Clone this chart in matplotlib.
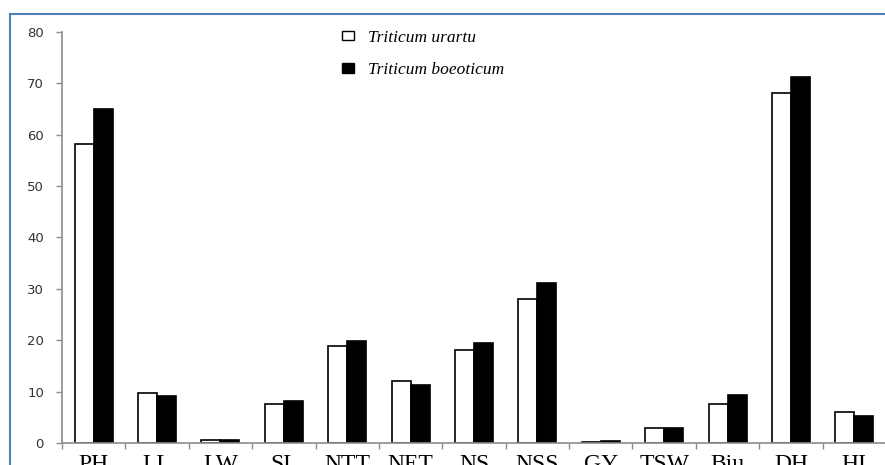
import matplotlib.pyplot as plt
import numpy as np
from matplotlib.lines import Line2D
from matplotlib.patches import Patch

# Trait abbreviations on the x axis
traits = ['PH', 'LL', 'LW', 'SL', 'NTT', 'NET', 'NS', 'NSS', 'GY', 'TSW',
          'Biu', 'DH', 'HI']

# Mean values for each species
urartu = [58.2, 9.7, 0.6, 7.5, 18.9, 12.1, 18.1, 28.0, 0.25, 2.9, 7.5, 68.1, 6.1]
boeoticum = [65.0, 9.2, 0.5, 8.2, 19.9, 11.2, 19.5, 31.1, 0.35, 3.0, 9.4, 71.3, 5.2]

y_ticks = [0, 10, 20, 30, 40, 50, 60, 70, 80]

x = np.arange(len(traits))
bar_width = 0.3
axis_grey = '#8c8c8c'

fig = plt.figure(figsize=(8.85, 4.65), dpi=100)
ax = fig.add_axes([62 / 885, 22 / 465, 824 / 885, 411 / 465])

ax.bar(x - bar_width / 2, urartu, bar_width, color='white',
       edgecolor='black', linewidth=1.2, label='Triticum urartu')
ax.bar(x + bar_width / 2, boeoticum, bar_width, color='black',
       edgecolor='black', linewidth=1.2, label='Triticum boeoticum')

ax.set_xlim(-0.5, len(traits) - 0.5)
ax.set_ylim(0, 80)

# y axis: small sans labels, outward ticks
ax.set_yticks(y_ticks)
ax.tick_params(axis='y', direction='out', length=4, width=1, color=axis_grey,
               labelsize=9.5, pad=9, labelcolor='#333333')

# x axis: labels centred, ticks between categories
ax.set_xticks(x, traits)
ax.set_xticks(np.arange(len(traits) + 1) - 0.5, minor=True)
ax.tick_params(axis='x', which='major', length=0, pad=8)
ax.tick_params(axis='x', which='minor', direction='out', length=4, width=1,
               color=axis_grey)
for lbl in ax.get_xticklabels():
    lbl.set_fontfamily('Liberation Serif')
    lbl.set_fontsize(17)

for side in ['top', 'right']:
    ax.spines[side].set_visible(False)
for side in ['left', 'bottom']:
    ax.spines[side].set_color(axis_grey)
    ax.spines[side].set_linewidth(1.2)

# Legend near top centre
handles = [Patch(facecolor='white', edgecolor='black', linewidth=1),
           Patch(facecolor='black', edgecolor='black')]
fig.legend(handles, ['Triticum urartu', 'Triticum boeoticum'],
           loc='upper left', bbox_to_anchor=(326 / 885, 1 - 14 / 465),
           frameon=False, handlelength=0.7, handleheight=0.5,
           handletextpad=0.8, labelspacing=0.95,
           prop={'family': 'Liberation Serif', 'style': 'italic', 'size': 12.5})

# Outer frame lines (top and left visible in the original)
frame_col = '#4f81bd'
fig.add_artist(Line2D([10 / 885, 1], [1 - 14 / 465, 1 - 14 / 465],
                      color=frame_col, linewidth=1.5))
fig.add_artist(Line2D([10 / 885, 10 / 885], [0, 1 - 14 / 465],
                      color=frame_col, linewidth=1.5))

plt.savefig('out.png', dpi=100)
